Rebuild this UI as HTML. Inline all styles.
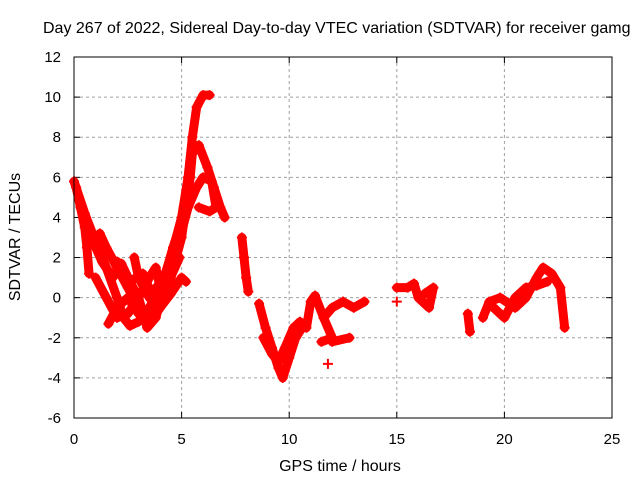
<!DOCTYPE html>
<html><head><meta charset="utf-8"><style>
body{margin:0;background:#fff}
svg{display:block;font-family:"Liberation Sans",sans-serif}
</style></head><body>
<svg id="chart" width="640" height="480" viewBox="0 0 640 480">
<rect width="640" height="480" fill="#fff"/>
<text x="43" y="33" font-size="16">Day 267 of 2022, Sidereal Day-to-day VTEC variation (SDTVAR) for receiver gamg</text>
<g id="grid"></g>
<g id="ticks"></g>
<g id="marks"></g>
<rect x="74" y="57" width="538" height="361" fill="none" stroke="#000" stroke-width="1"/>
<text x="340" y="471" font-size="16" text-anchor="middle">GPS time / hours</text>
<text transform="translate(20,237) rotate(-90)" font-size="16" text-anchor="middle">SDTVAR / TECUs</text>
</svg>
<script>
const xTicks=[0,5,10,15,20,25];
const yTicks=[-6,-4,-2,0,2,4,6,8,10,12];
const trackA=[[0,5.8],[0.5,4.2],[1,2.8],[1.5,1.5],[2,0],[2.3,-1],[2.6,-1.4],[3,-1.2],[3.5,-0.5],[4,0.5],[4.5,2],[5,4],[5.3,6],[5.5,8],[5.7,9.5],[6,10.1],[6.3,10.1]];
const trackB=[[0.1,5.5],[0.5,3.5],[0.6,2.5],[0.7,1.2]];
const trackC=[[1.2,3.2],[1.5,2.5],[2,1.5],[2.5,0.5],[3,-0.5],[3.5,-1.3],[4,-0.5],[4.5,1],[5,3],[5.4,6],[5.5,7.2],[5.8,7.6],[6.2,6.5],[6.5,5.5],[6.8,4.5],[7,4]];
const trackD=[[2,1.8],[2.5,1],[3,0],[3.4,-1.5],[3.8,-1],[4.2,0.5],[4.8,2.5],[5.3,4.5],[5.7,5.5],[6,6],[6.4,5.8],[6.6,4.5],[6.3,4.3],[5.8,4.5]];
const trackE=[[1,1],[1.5,0],[2,-1],[2.5,-0.8],[3,0],[3.5,1],[3.8,1.5],[4,0.5]];
const trackF=[[2.8,2],[3,1],[3.5,0],[4,-0.5],[4.5,0.2],[5,1],[5.2,0.8]];
const trackS=[[0.3,4.5],[0.8,3],[1.3,1.8],[1.8,1],[2.2,1.7],[2.6,0.8],[3.2,1.2],[3.6,0.2],[4.2,1],[4.6,2.5],[4.9,3.5],[5.1,4.5]];
const trackT=[[1.6,-1.3],[2,-0.5],[2.5,0],[3,-0.8],[3.6,-1],[4,0],[4.4,0.8],[4.9,2]];
const trackG=[[7.8,3],[7.9,2],[8,1],[8.1,0.3]];
const trackH=[[8.6,-0.3],[8.9,-1.5],[9.2,-2.5],[9.5,-3.5],[9.7,-4],[10,-3],[10.3,-2],[10.6,-1.5]];
const trackI=[[8.8,-2],[9.2,-2.8],[9.5,-3.2],[9.8,-2.5],[10.2,-1.5],[10.5,-1.2]];
const trackJ=[[10.8,-1.5],[11,-0.2],[11.2,0.1],[11.6,-1],[12,-2],[11.5,-2.2]];
const trackK=[[11.8,-3.3]];
const trackL=[[11.6,-1],[12,-0.5],[12.5,-0.2],[13,-0.5],[13.5,-0.2]];
const trackM=[[12,-2.2],[12.8,-2]];
const trackN=[[15,0.5],[15.5,0.5],[15.8,0.7],[16,0],[16.5,-0.5],[16.7,0.5],[16.3,0.2]];
const trackO=[[15,-0.2]];
const trackP=[[18.3,-0.8],[18.4,-1.7]];
const trackQ=[[19,-1],[19.3,-0.2],[19.8,0],[20.5,-0.5],[21,0],[21.5,1],[21.8,1.5],[22.2,1.2],[22.6,0.5],[22.8,-1.5]];
const trackR=[[19.5,-0.5],[20,-1],[20.5,0],[21,0.5],[21.5,0.6],[22,0.8]];
const tracks=[trackA,trackB,trackC,trackD,trackE,trackF,trackS,trackT,trackG,trackH,trackI,trackJ,trackK,trackL,trackM,trackN,trackO,trackP,trackQ,trackR];
const NS="http://www.w3.org/2000/svg";
function xs(t){return 74+t*538/25;}
function ys(v){return 418-(v+6)*361/18;}
function mk(tag,attrs,parent){const e=document.createElementNS(NS,tag);for(const k in attrs)e.setAttribute(k,attrs[k]);parent.appendChild(e);return e;}
const grid=document.getElementById('grid'),ticks=document.getElementById('ticks'),marks=document.getElementById('marks');
xTicks.forEach(t=>{
  if(t>0&&t<25){const l=mk('line',{x1:xs(t),x2:xs(t),y1:57,y2:418,stroke:'#a0a0a0','stroke-dasharray':'3,3'},grid);
  
  }
  const tl=mk('text',{x:xs(t),y:444,'font-size':15,'text-anchor':'middle'},ticks);tl.textContent=t;
  
  
  mk('line',{x1:xs(t),x2:xs(t),y1:418,y2:412,stroke:'#000'},ticks);
  mk('line',{x1:xs(t),x2:xs(t),y1:57,y2:63,stroke:'#000'},ticks);
});
yTicks.forEach(v=>{
  if(v>-6&&v<12){const l=mk('line',{x1:74,x2:612,y1:ys(v),y2:ys(v),stroke:'#a0a0a0','stroke-dasharray':'3,3'},grid);
  
  }
  const tl=mk('text',{x:61,y:ys(v)+5,'font-size':15,'text-anchor':'end'},ticks);tl.textContent=v;
  
  
  mk('line',{x1:74,x2:80,y1:ys(v),y2:ys(v),stroke:'#000'},ticks);
  mk('line',{x1:612,x2:606,y1:ys(v),y2:ys(v),stroke:'#000'},ticks);
});
tracks.forEach(tr=>{
  const g=mk('g',{},marks);
  
  
  if(tr.length>1){mk('polyline',{points:tr.map(p=>xs(p[0])+','+ys(p[1])).join(' '),fill:'none',stroke:'#f00','stroke-width':9,'stroke-linejoin':'round','stroke-linecap':'round'},g);}
  tr.forEach(p=>{const x=xs(p[0]),y=ys(p[1]);
    mk('path',{d:`M${x-5} ${y}H${x+5}M${x} ${y-5}V${y+5}`,stroke:'#f00','stroke-width':2},g);});
});
</script>
</body></html>
